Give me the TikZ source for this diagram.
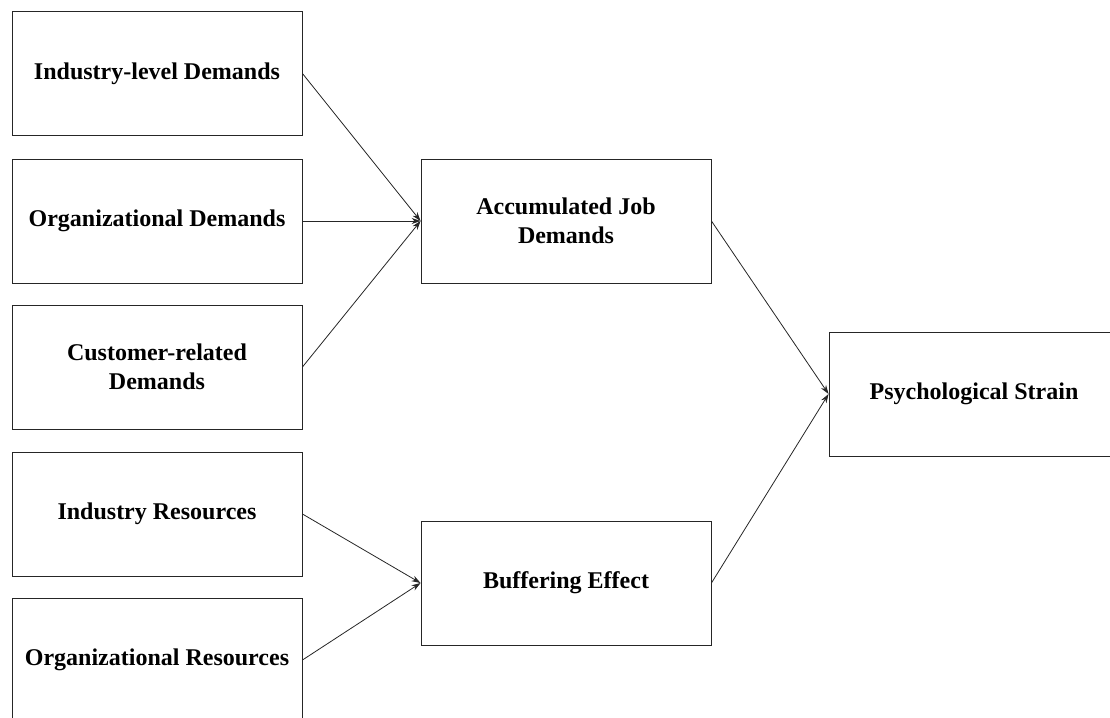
\documentclass[tikz,border=0pt]{standalone}
\usepackage{fontspec}
\setmainfont{Liberation Serif}
\usetikzlibrary{arrows.meta}
\begin{document}
\begin{tikzpicture}[x=1pt,y=-1pt,
  box/.style={draw=black!85, line width=0.9pt, minimum width=290pt, minimum height=124pt,
    inner sep=0pt, align=center, font=\fontsize{24pt}{29pt}\selectfont\bfseries},
  conn/.style={draw=black!85, line width=0.8pt, -{Stealth[length=9pt,width=6pt]}}]
\useasboundingbox (0,0) rectangle (1110,717);
\clip (0,0) rectangle (1110,717);
\node[box] (ild) at (157,73.5) {Industry-level Demands};
\node[box] (od) at (157,221) {Organizational Demands};
\node[box] (crd) at (157,367) {Customer-related\\Demands};
\node[box] (ir) at (157,514) {Industry Resources};
\node[box] (or) at (157,660) {Organizational Resources};
\node[box] (ajd) at (566,221) {Accumulated Job\\Demands};
\node[box] (be) at (566,583) {Buffering Effect};
\node[box] (ps) at (974,394) {Psychological Strain};
\draw[conn] (ild.east) -- (ajd.west);
\draw[conn] (od.east) -- (ajd.west);
\draw[conn] (crd.east) -- (ajd.west);
\draw[conn] (ir.east) -- (be.west);
\draw[conn] (or.east) -- (be.west);
\draw[conn] (ajd.east) -- (ps.west);
\draw[conn] (be.east) -- (ps.west);
\end{tikzpicture}
\end{document}
